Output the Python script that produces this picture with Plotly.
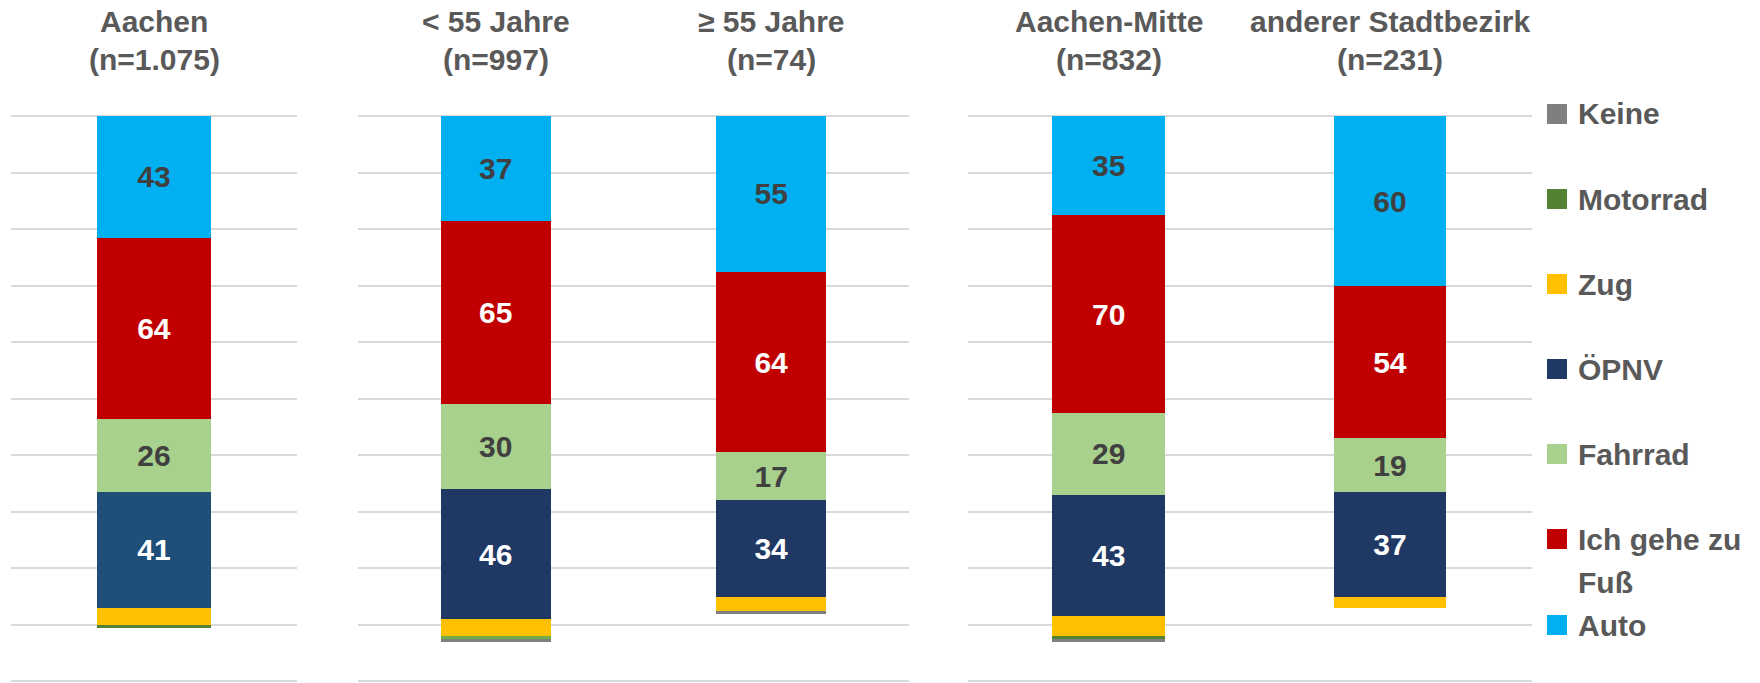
import plotly.graph_objects as go

# ---------------- data ----------------
groups = ["Aachen", "< 55 Jahre", "≥ 55 Jahre", "Aachen-Mitte", "anderer Stadtbezirk"]
n_labels = ["(n=1.075)", "(n=997)", "(n=74)", "(n=832)", "(n=231)"]
panel = [1, 2, 2, 3, 3]

auto = [43, 37, 55, 35, 60]
fuss = [64, 65, 64, 70, 54]
fahrrad = [26, 30, 17, 29, 19]
oepnv = [41, 46, 34, 43, 37]
zug = [6, 6, 5, 7, 4]
motorrad = [1, 1, 0, 1, 0]
keine = [0, 1, 1, 1, 0]

legend_names = ["Keine", "Motorrad", "Zug", "ÖPNV", "Fahrrad", "Ich gehe zu Fuß", "Auto"]

# ---------------- style ----------------
W, H = 1760, 683
MT, MB = 112, 0
FONT = "Liberation Sans, Arial, sans-serif"
GREY_TXT = "#595959"
DARK_TXT = "#404040"


def py2paper(py):
    return (H - MB - py) / (H - MT - MB)


series = [
    ("Auto", auto, ["#00B0F0"] * 5, DARK_TXT, True),
    ("Ich gehe zu Fuß", fuss, ["#C00000"] * 5, "white", True),
    ("Fahrrad", fahrrad, ["#A9D18E"] * 5, DARK_TXT, True),
    ("ÖPNV", oepnv, ["#1F4E79", "#203864", "#203864", "#203864", "#203864"], "white", True),
    ("Zug", zug, ["#FFC000"] * 5, DARK_TXT, False),
    ("Motorrad", motorrad, ["#548235", "#70AD47", "#548235", "#548235", "#548235"], DARK_TXT, False),
    ("Keine", keine, ["#7F7F7F"] * 5, DARK_TXT, False),
]
legend_colors = {"Keine": "#7F7F7F", "Motorrad": "#548235", "Zug": "#FFC000", "ÖPNV": "#203864",
                 "Fahrrad": "#A9D18E", "Ich gehe zu Fuß": "#C00000", "Auto": "#00B0F0"}

fig = go.Figure()
for name, vals, colors, tcolor, show in series:
    for p in (1, 2, 3):
        idx = [i for i in range(len(groups)) if panel[i] == p]
        xs = [groups[i] for i in idx]
        ys = [vals[i] for i in idx]
        cs = [colors[i] for i in idx]
        suffix = "" if p == 1 else str(p)
        fig.add_trace(go.Bar(
            x=xs, y=ys, name=name,
            marker=dict(color=cs, line=dict(width=0)),
            text=[str(v) for v in ys] if show else None,
            texttemplate="<b>%{text}</b>" if show else None,
            textposition="inside" if show else "none",
            insidetextanchor="middle", textangle=0, constraintext="none",
            textfont=dict(size=30, color=tcolor, family=FONT),
            xaxis="x" + suffix, yaxis="y" + suffix,
            showlegend=False,
        ))

domains = {1: [11 / W, 297 / W], 2: [358 / W, 909 / W], 3: [968 / W, 1532 / W]}
layout = dict(
    width=W, height=H,
    margin=dict(l=0, r=0, t=MT, b=MB, pad=0),
    barmode="stack", bargap=0.6,
    plot_bgcolor="white", paper_bgcolor="white",
    font=dict(family=FONT, color=GREY_TXT),
)
for p in (1, 2, 3):
    suffix = "" if p == 1 else str(p)
    layout["xaxis" + suffix] = dict(domain=domains[p], anchor="y" + suffix, showticklabels=False,
                                    showgrid=False, zeroline=False, showline=False, ticks="")
    layout["yaxis" + suffix] = dict(domain=[0, 1], anchor="x" + suffix, range=[200.6, -1.5],
                                    tick0=0, dtick=20, showgrid=True, gridcolor="#D9D9D9",
                                    gridwidth=1.5, showticklabels=False, zeroline=False,
                                    showline=False, ticks="")
fig.update_layout(**layout)

annotations = []
shapes = []
# group titles
for i, g in enumerate(groups):
    p = panel[i]
    xref = "x" if p == 1 else "x" + str(p)
    for txt, py in ((g, 21), (n_labels[i], 59)):
        annotations.append(dict(x=g, xref=xref, y=py2paper(py), yref="paper", text="<b>%s</b>" % txt,
                                showarrow=False, xanchor="center", yanchor="middle",
                                font=dict(size=30, color=GREY_TXT, family=FONT)))

# legend (manual to match spacing)
leg_y = [114, 199, 284, 369, 454, 539, 625]
for name, cy in zip(legend_names, leg_y):
    shapes.append(dict(type="rect", xref="paper", yref="paper",
                       x0=1547 / W, x1=1567 / W, y0=py2paper(cy + 10), y1=py2paper(cy - 10),
                       fillcolor=legend_colors[name], line=dict(width=0)))
    if name == "Ich gehe zu Fuß":
        lines = [("Ich gehe zu", cy), ("Fuß", cy + 43)]
    else:
        lines = [(name, cy)]
    for txt, y in lines:
        annotations.append(dict(x=1576 / W, xref="paper", y=py2paper(y), yref="paper",
                                text="<b>%s</b>" % txt, showarrow=False,
                                xanchor="left", yanchor="middle",
                                font=dict(size=30, color=GREY_TXT, family=FONT)))

fig.update_layout(annotations=annotations, shapes=shapes)
fig.write_html("out.html", config={"displayModeBar": False},
               post_script="document.body.style.margin='0px';")
